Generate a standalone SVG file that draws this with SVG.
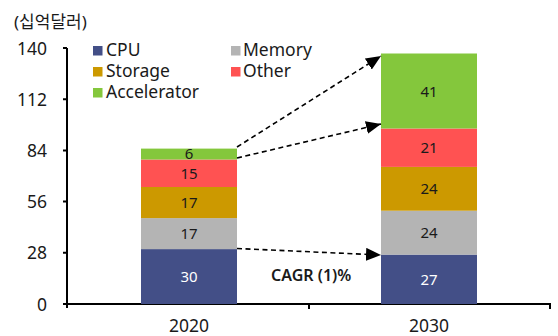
<svg xmlns="http://www.w3.org/2000/svg" width="558" height="336" viewBox="0 0 558 336">
<style>
text{font-family:"Noto Sans","Noto Sans CJK KR","Liberation Sans",sans-serif;fill:#1a1a1a}
.ax{font-size:17.5px;text-anchor:end}
.xl{font-size:17.5px;text-anchor:middle}
.lg{font-size:17.5px}
.v{font-size:15px;text-anchor:middle}
.w{fill:#ffffff}
.axis{stroke:#000;stroke-width:2;fill:none}
.cpu{fill:#434F87}.mem{fill:#B4B4B4}.sto{fill:#CC9900}.oth{fill:#FF5252}.acc{fill:#84C73C}
.dash{stroke:#000;stroke-width:1.6;stroke-dasharray:5 3.5;fill:none;marker-end:url(#ah)}
</style>
<defs>
<marker id="ah" markerUnits="userSpaceOnUse" markerWidth="15" markerHeight="13" refX="15" refY="6.5" orient="auto">
<path d="M0,0 L15,6.5 L0,13 Z" fill="#000" stroke="none"/>
</marker>
</defs>
<rect width="558" height="336" fill="#fff"/>
<text x="14" y="28" style="font-size:17px">(십억달러)</text>
<g id="axes">
<path class="axis" d="M67,48 V308 M63,48 H67 M63,99.2 H67 M63,150.4 H67 M63,201.6 H67 M63,252.8 H67 M63,304 H550 V309 M309,304 V309"/>
<text class="ax" x="47" y="54.5">140</text>
<text class="ax" x="47" y="105.7">112</text>
<text class="ax" x="47" y="156.9">84</text>
<text class="ax" x="47" y="208.1">56</text>
<text class="ax" x="47" y="259.3">28</text>
<text class="ax" x="47" y="310.5">0</text>
<text class="xl" x="189" y="332">2020</text>
<text class="xl" x="429" y="332">2030</text>
</g>
<g id="legend">
<rect class="cpu" x="93" y="46" width="9.5" height="9.5"/><text class="lg" x="106" y="56">CPU</text>
<rect class="sto" x="93" y="67" width="9.5" height="9.5"/><text class="lg" x="106" y="77">Storage</text>
<rect class="acc" x="93" y="88" width="9.5" height="9.5"/><text class="lg" x="106" y="98">Accelerator</text>
<rect class="mem" x="231" y="46" width="9.5" height="9.5"/><text class="lg" x="243" y="56">Memory</text>
<rect class="oth" x="231" y="67" width="9.5" height="9.5"/><text class="lg" x="243" y="77">Other</text>
</g>
<g id="bar2020">
<rect class="cpu" x="141" y="249.1" width="96" height="54.9"/>
<rect class="mem" x="141" y="218.1" width="96" height="31"/>
<rect class="sto" x="141" y="187" width="96" height="31.1"/>
<rect class="oth" x="141" y="159.5" width="96" height="27.5"/>
<rect class="acc" x="141" y="148.6" width="96" height="10.9"/>
<text class="v w" x="189" y="282">30</text>
<text class="v" x="189" y="239">17</text>
<text class="v" x="189" y="208">17</text>
<text class="v" x="189" y="179">15</text>
<text class="v" x="189" y="159">6</text>
</g>
<g id="bar2030">
<rect class="cpu" x="381" y="254.6" width="96" height="49.4"/>
<rect class="mem" x="381" y="210.7" width="96" height="43.9"/>
<rect class="sto" x="381" y="166.9" width="96" height="43.8"/>
<rect class="oth" x="381" y="128.5" width="96" height="38.4"/>
<rect class="acc" x="381" y="53.5" width="96" height="75"/>
<text class="v w" x="429" y="285">27</text>
<text class="v" x="429" y="238">24</text>
<text class="v" x="429" y="194">24</text>
<text class="v" x="429" y="153">21</text>
<text class="v" x="429" y="97">41</text>
</g>
<g id="connectors">
<path class="dash" d="M237,147 L381,56"/>
<path class="dash" d="M237,158 L381,124"/>
<path class="dash" d="M237,248.5 L381,255"/>
</g>
<text x="271" y="281" style="font-size:16px;font-weight:600">CAGR (1)%</text>
</svg>
